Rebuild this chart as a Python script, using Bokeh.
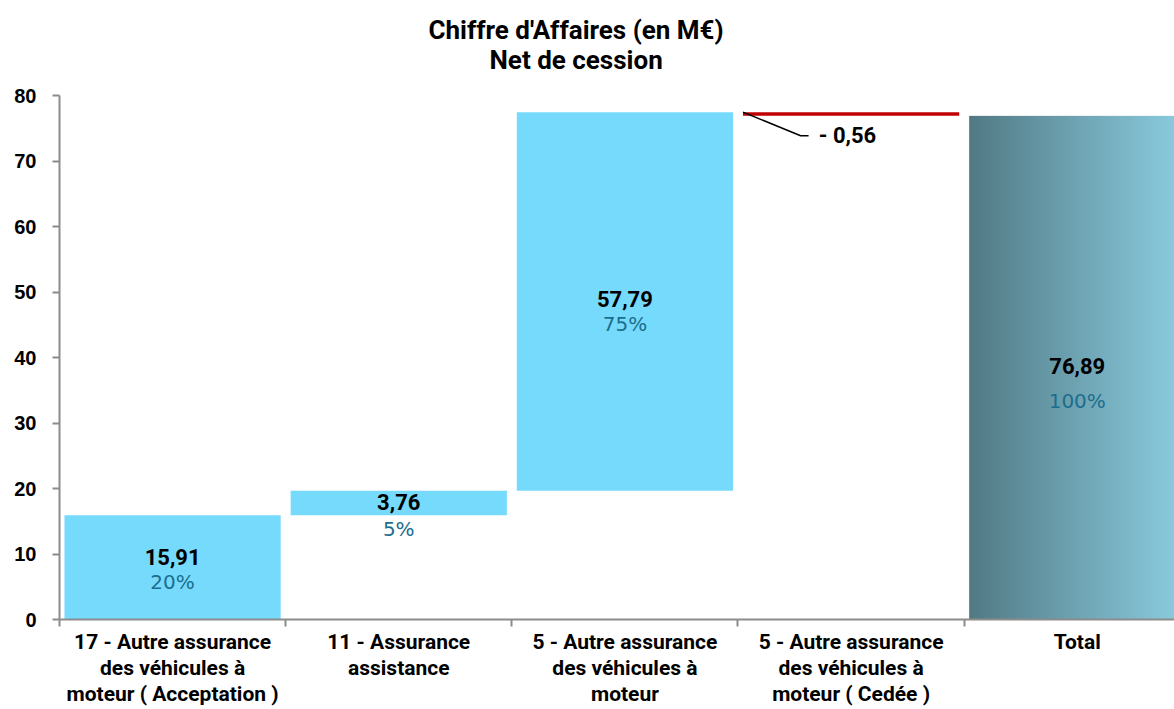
import numpy as np
from bokeh.plotting import figure
from bokeh.models import Range1d, FixedTicker, Title, ColumnDataSource
from bokeh.core.properties import value
from bokeh.embed import file_html
from bokeh.resources import INLINE

# ---------------- data ----------------
categories = [
    "17 - Autre assurance\ndes véhicules à\nmoteur ( Acceptation )",
    "11 - Assurance\nassistance",
    "5 - Autre assurance\ndes véhicules à\nmoteur",
    "5 - Autre assurance\ndes véhicules à\nmoteur ( Cedée )",
    "Total",
]
amounts = [15.91, 3.76, 57.79, -0.56]
total_value = 76.89
pct_labels = ["20%", "5%", "75%", None, "100%"]
y_ticks = [0, 10, 20, 30, 40, 50, 60, 70, 80]
title_main = "Chiffre d'Affaires (en M€)"
title_sub = "Net de cession"

# ---------------- styling ----------------
FONT = "Roboto"
PFONT = "DejaVu Sans"
BAR_BLUE = "#76DAFC"
NEG_RED = "#C00000"
PCT_COLOR = "#1B6E8E"
AXIS_GREY = "#8C8C8C"
BAR_W = 0.956

p = figure(width=1174, height=709, output_backend="svg", toolbar_location=None,
           x_range=Range1d(0, 4.93), y_range=Range1d(0, 80),
           min_border_left=59, min_border_top=95, min_border_right=0, min_border_bottom=0)
p.outline_line_color = None
p.xgrid.grid_line_color = None
p.ygrid.grid_line_color = None
p.background_fill_color = "white"

# titles: spacer, subtitle, main title (stacked upward from the frame)
p.add_layout(Title(text=" ", text_font_size="1px", standoff=17), "above")
p.add_layout(Title(text=title_sub, align="left", offset=430, text_font=FONT,
                   text_font_size="26px", text_font_style="bold", text_color="black",
                   standoff=2), "above")
p.add_layout(Title(text=title_main, align="left", offset=369, text_font=FONT,
                   text_font_size="26px", text_font_style="bold", text_color="black",
                   standoff=-6), "above")

# waterfall geometry from data
n = len(amounts)
bottoms, tops = [], []
run = 0.0
for a in amounts:
    start = run
    run = run + a
    bottoms.append(min(start, run))
    tops.append(max(start, run))
centers = [i + 0.5 for i in range(n)]
colors = [BAR_BLUE if a >= 0 else NEG_RED for a in amounts]

src = ColumnDataSource(dict(x=centers, bottom=bottoms, top=tops, color=colors))
p.vbar(x="x", width=BAR_W, bottom="bottom", top="top", fill_color="color",
       line_color=None, source=src)

# total bar with horizontal gradient (image spanning the bar)
Ng = 200
c0 = np.array([0x52, 0x7A, 0x85], dtype=float)
c1 = np.array([0x8C, 0xCE, 0xE1], dtype=float)
t = np.linspace(0, 1, Ng)[None, :, None]
rgb = (c0 + (c1 - c0) * t).astype(np.uint32)
img = np.zeros((1, Ng), dtype=np.uint32)
view = img.view(dtype=np.uint8).reshape((1, Ng, 4))
view[..., 0] = rgb[..., 0]
view[..., 1] = rgb[..., 1]
view[..., 2] = rgb[..., 2]
view[..., 3] = 255
tot_x0 = n + 0.5 - BAR_W / 2
p.image_rgba(image=[img], x=tot_x0, y=0, dw=BAR_W, dh=total_value)

def fmt(v):
    return f"{abs(v):.2f}".replace(".", ",")

# value + percent labels (positive bars)
vx, vy, vt, px, py, pt = [], [], [], [], [], []
for i, a in enumerate(amounts):
    if a < 0:
        continue
    mid = (bottoms[i] + tops[i]) / 2
    vx.append(centers[i]); vy.append(mid); vt.append(fmt(a))
    px.append(centers[i]); py.append(mid); pt.append(pct_labels[i])
vx.append(n + 0.5); vy.append(total_value / 2); vt.append(fmt(total_value))
px.append(n + 0.5); py.append(total_value / 2); pt.append(pct_labels[n])

p.text(x=vx, y=vy, text=vt, text_font=value(FONT), text_font_style="bold",
       text_font_size="22px", text_color="black", text_align="center",
       text_baseline="middle", y_offset=[-10, -1, -2, -2])
p.text(x=px, y=py, text=pt, text_font=value(PFONT), text_font_size="20px",
       text_color=PCT_COLOR, text_align="center", text_baseline="middle",
       y_offset=[15, 26, 23, 33])

# negative bar label with leader line
for i, a in enumerate(amounts):
    if a >= 0:
        continue
    x_left = centers[i] - BAR_W / 2
    y_top = tops[i]
    y_lab = y_top - 3.6
    p.line(x=[x_left, x_left + 0.255, x_left + 0.29], y=[y_top, y_lab, y_lab],
           line_color="black", line_width=1.5)
    p.text(x=[x_left + 0.335], y=[y_lab], text=["- " + fmt(a)], text_font=value(FONT),
           text_font_style="bold", text_font_size="22px", text_color="black",
           text_align="left", text_baseline="middle")

# axes
ax = p.xaxis[0]
ax.ticker = FixedTicker(ticks=centers + [n + 0.5], minor_ticks=list(range(0, n + 2)))
ax.major_label_overrides = {c: lab for c, lab in zip(centers + [n + 0.5], categories)}
ax.major_tick_line_color = None
ax.minor_tick_line_color = AXIS_GREY
ax.minor_tick_line_width = 2
ax.minor_tick_in = 0
ax.minor_tick_out = 7
ax.axis_line_color = AXIS_GREY
ax.axis_line_width = 2
ax.major_label_text_font = FONT
ax.major_label_text_font_style = "bold"
ax.major_label_text_font_size = "21px"
ax.major_label_text_color = "black"
ax.major_label_text_line_height = 1.1
ax.major_label_standoff = 3

ay = p.yaxis[0]
ay.ticker = FixedTicker(ticks=y_ticks)
ay.axis_line_color = AXIS_GREY
ay.axis_line_width = 2
ay.major_tick_line_color = AXIS_GREY
ay.major_tick_line_width = 2
ay.major_tick_in = 0
ay.major_tick_out = 7
ay.minor_tick_line_color = None
ay.major_label_text_font = "Liberation Sans"
ay.major_label_text_font_style = "bold"
ay.major_label_text_font_size = "20px"
ay.major_label_text_color = "black"
ay.major_label_standoff = 16

open("out.html", "w").write(file_html(p, INLINE))
